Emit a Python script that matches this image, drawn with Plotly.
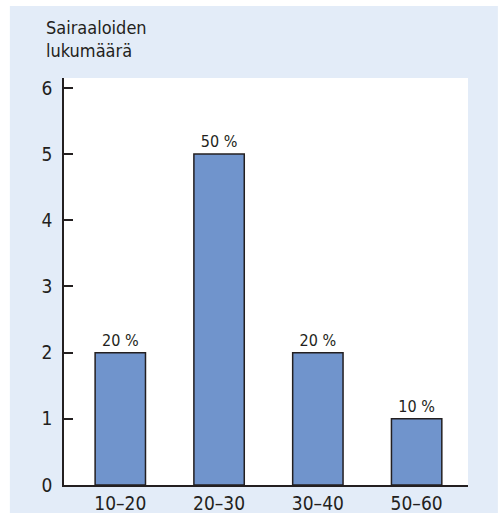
import plotly.graph_objects as go

# data
ryhmat = ["10\u201320", "20\u201330", "30\u201340", "50\u201360"]
lukumaarat = [2, 5, 2, 1]
osuudet = ["20 %", "50 %", "20 %", "10 %"]
y_tikit = [0, 1, 2, 3, 4, 5, 6]

fontti = "DejaVu Sans Condensed, Liberation Sans Narrow, sans-serif"
tumma = "#231f20"

fig = go.Figure(
    go.Bar(
        x=list(range(len(ryhmat))),
        y=lukumaarat,
        text=osuudet,
        textposition="outside",
        textfont=dict(size=16, color=tumma, family=fontti),
        cliponaxis=False,
        width=0.51,
        marker=dict(color="#7094cc", line=dict(color=tumma, width=1.5)),
    )
)

fig.update_layout(
    template="none",
    width=499,
    height=514,
    margin=dict(l=64, r=31, t=78, b=29, pad=0),
    paper_bgcolor="white",
    plot_bgcolor="white",
    showlegend=False,
    font=dict(family=fontti, size=18, color=tumma),
    shapes=[
        # light blue panel behind everything
        dict(type="rect", xref="paper", yref="paper", x0=-0.134, x1=1.074,
             y0=-0.069, y1=1.177, fillcolor="#e3ecf8", line=dict(width=0), layer="below"),
        # white plot area on top of the panel
        dict(type="rect", xref="paper", yref="paper", x0=0, x1=1, y0=0, y1=1,
             fillcolor="white", line=dict(width=0), layer="below"),
    ],
    annotations=[
        dict(text="Sairaaloiden<br>lukumäärä", xref="paper", yref="paper",
             x=-0.05, y=1.155, xanchor="left", yanchor="top", align="left",
             showarrow=False, font=dict(size=18, family=fontti, color=tumma)),
    ],
)

fig.update_xaxes(
    tickvals=list(range(len(ryhmat))),
    ticktext=ryhmat,
    range=[-0.57, 3.52],
    showline=True, linecolor=tumma, linewidth=1.5,
    ticks="", showgrid=False, zeroline=False, automargin=False,
    tickfont=dict(size=19),
)
fig.update_yaxes(
    range=[0, 6.15],
    tickvals=y_tikit,
    showline=True, linecolor=tumma, linewidth=1.5,
    ticks="inside", ticklen=9, tickcolor=tumma, tickwidth=1.5,
    showgrid=False, zeroline=False, automargin=False,
    ticklabelstandoff=6,
    tickfont=dict(size=19),
)

fig.write_html("out.html", config={"displayModeBar": False},
               post_script="document.body.style.margin='0';document.body.style.overflow='hidden';")
